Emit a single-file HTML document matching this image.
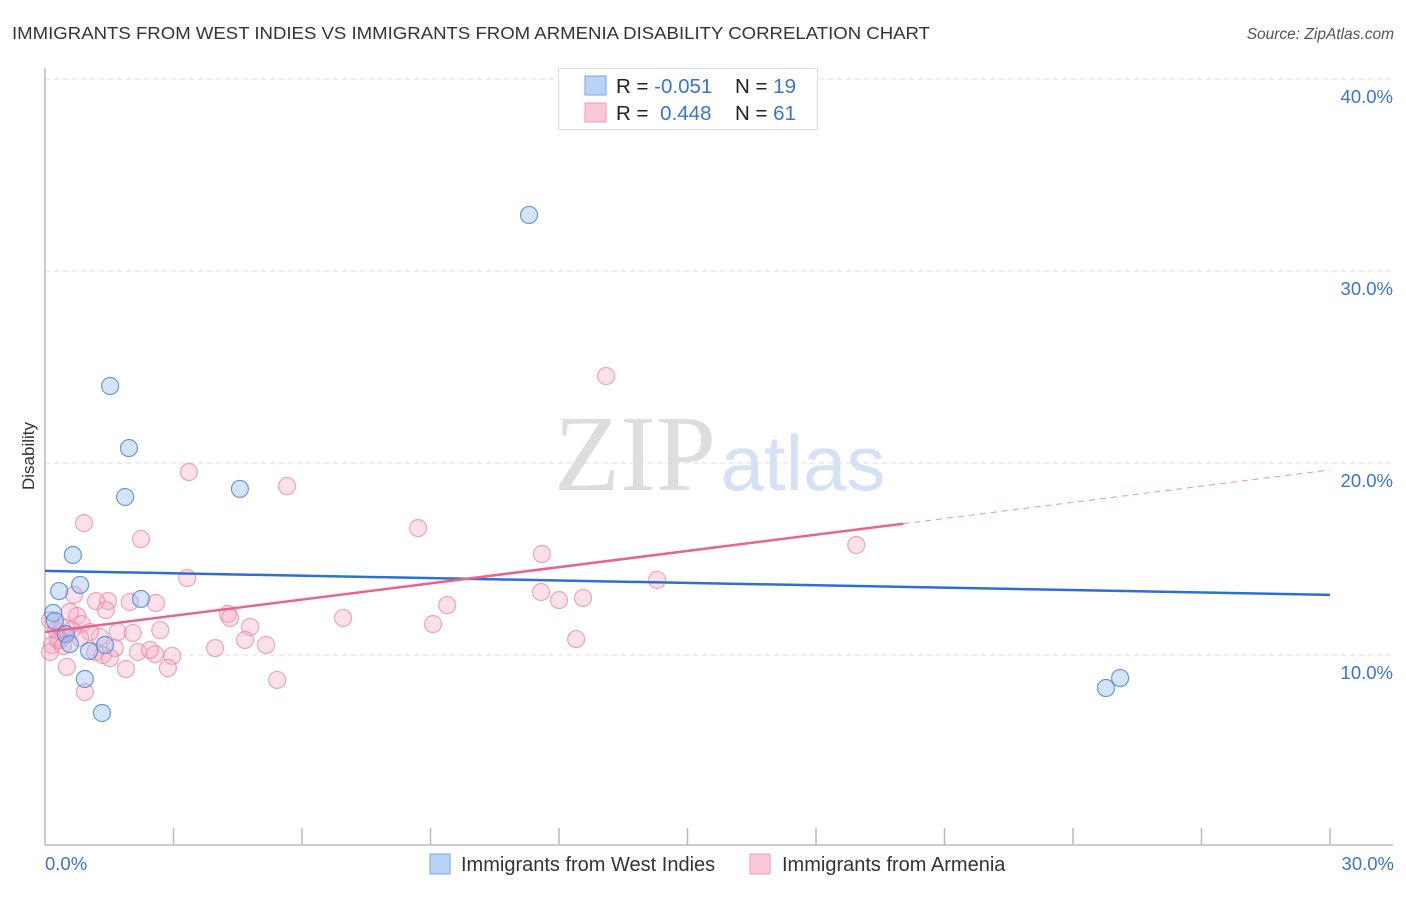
<!DOCTYPE html>
<html><head><meta charset="utf-8"><style>
body{margin:0;background:#fff;font-family:"Liberation Sans",sans-serif;}
svg text{font-family:"Liberation Sans",sans-serif;}
</style></head><body>
<svg id="chart" width="1406" height="892" xmlns="http://www.w3.org/2000/svg">
<text x="12" y="39" font-size="17.5" fill="#333" textLength="918" lengthAdjust="spacingAndGlyphs">IMMIGRANTS FROM WEST INDIES VS IMMIGRANTS FROM ARMENIA DISABILITY CORRELATION CHART</text>
<text x="1394" y="39" font-size="15.5" fill="#555" font-style="italic" text-anchor="end">Source: ZipAtlas.com</text>
<g id="grid"></g>
<g>
<text x="635" y="490" font-size="108" fill="#ddd" text-anchor="middle" style="font-family:'Liberation Serif',serif">ZIP</text>
<text x="803" y="490" font-size="78" fill="#d5e2f5" text-anchor="middle">atlas</text>
</g>
<g id="marks"></g>
<text x="34" y="456" font-size="17" fill="#333" text-anchor="middle" transform="rotate(-90 34 456)">Disability</text>
<g>
<rect x="558.5" y="68.5" width="259" height="61" fill="#fff" stroke="#ddd"/>
<rect x="585" y="76" width="21" height="19" fill="#b8d3f5" stroke="#7aa6e4"/>
<rect x="585" y="103" width="21" height="19" fill="#fbc8d6" stroke="#ee9bb4"/>
<text x="616" y="93" font-size="20.5" fill="#222">R = <tspan fill="#3b73d1">-0.051</tspan></text>
<text x="735" y="93" font-size="20.5" fill="#222">N = <tspan fill="#3b73d1">19</tspan></text>
<text x="616" y="120" font-size="20.5" fill="#222">R = <tspan fill="#3b73d1" dx="6">0.448</tspan></text>
<text x="735" y="120" font-size="20.5" fill="#222">N = <tspan fill="#3b73d1">61</tspan></text>
</g>
<text x="45" y="870" font-size="18.5" fill="#3b73d1">0.0%</text>
<text x="1394" y="870" font-size="18.5" fill="#3b73d1" text-anchor="end">30.0%</text>
<g>
<rect x="430" y="854" width="20" height="20" fill="#b8d3f5" stroke="#7aa6e4"/>
<text x="461" y="871" font-size="20" fill="#333">Immigrants from West Indies</text>
<rect x="750" y="854" width="20" height="20" fill="#fbc8d6" stroke="#ee9bb4"/>
<text x="782" y="871" font-size="20" fill="#333">Immigrants from Armenia</text>
</g>
</svg>
<script>
const yTicks=[10,20,30,40];
const yTickLabels=["10.0%","20.0%","30.0%","40.0%"];
const xTickVals=[3,6,9,12,15,18,21,24,27,30];
const blueX=[11.30,1.52,1.96,1.87,4.55,0.65,0.33,0.82,2.24,0.19,0.23,0.49,0.58,1.40,1.03,0.93,1.33,24.77,25.10];
const blueY=[32.92,24.01,20.78,18.23,18.65,15.21,13.33,13.65,12.92,12.19,11.77,11.09,10.57,10.52,10.21,8.75,6.98,8.28,8.80];
const pinkX=[13.10,3.36,5.65,0.91,2.24,8.71,11.60,18.94,3.32,14.29,11.58,12.00,12.56,9.39,6.96,9.06,12.40,4.27,4.32,2.59,1.98,1.47,1.19,0.68,0.75,0.58,1.42,0.86,0.12,0.26,0.44,0.35,1.70,2.05,2.69,4.79,4.67,5.16,3.97,2.97,2.57,2.17,2.45,1.28,1.63,1.17,1.35,1.52,1.89,2.87,0.51,0.93,5.42,0.16,0.12,0.30,0.40,1.05,0.42,0.63,0.82];
const pinkY=[24.53,19.53,18.80,16.87,16.04,16.61,15.26,15.73,14.01,13.91,13.28,12.86,12.97,12.60,11.93,11.61,10.83,12.14,11.93,12.71,12.76,12.81,12.81,13.13,12.03,12.24,12.34,11.61,11.82,11.30,11.09,10.78,11.20,11.15,11.30,11.46,10.78,10.52,10.36,9.95,10.05,10.16,10.26,10.94,10.36,10.16,10.00,9.84,9.27,9.32,9.38,8.07,8.70,10.52,10.16,10.78,11.41,11.20,10.47,11.30,10.89];
const blueTrend=[14.38,13.13];      // y at x=0, x=30
const pinkTrend=[11.20,19.64];      // y at x=0, x=30
const pinkSolidEnd=20.04;

const NS="http://www.w3.org/2000/svg";
const sx=v=>45+v/30*1285;
const sy=v=>847-v*19.2;
function mk(tag,attrs,parent){const e=document.createElementNS(NS,tag);for(const k in attrs)e.setAttribute(k,attrs[k]);parent.appendChild(e);return e;}
const grid=document.getElementById('grid'),marks=document.getElementById('marks');
yTicks.forEach((t,i)=>{
 const l=mk('line',{x1:45,x2:1393,y1:sy(t),y2:sy(t),stroke:'#ddd','stroke-dasharray':'5,4'},grid);
 
 
 const tx=mk('text',{x:1393,y:sy(t)+24,'font-size':18.5,fill:'#3b73d1','text-anchor':'end'},grid);
 tx.textContent=yTickLabels[i];
 
 
});
const ax=mk('line',{x1:45,x2:45,y1:68,y2:845,stroke:'#bbb','stroke-width':1.5},grid);


const bx=mk('line',{x1:45,x2:1393,y1:845,y2:845,stroke:'#bbb','stroke-width':1.5},grid);


xTickVals.forEach(t=>{
 const l=mk('line',{x1:sx(t),x2:sx(t),y1:828,y2:845,stroke:'#bbb','stroke-width':1.5},grid);
 
 
});
pinkX.forEach((x,i)=>{
 const c=mk('circle',{cx:sx(x),cy:sy(pinkY[i]),r:8.5,fill:'rgba(248,170,195,0.35)',stroke:'rgba(232,130,165,0.7)','stroke-width':1.2},marks);
 
 
});
blueX.forEach((x,i)=>{
 const c=mk('circle',{cx:sx(x),cy:sy(blueY[i]),r:8.5,fill:'rgba(150,190,240,0.4)',stroke:'rgba(70,130,215,0.8)','stroke-width':1.2},marks);
 
 
});
const pAt=x=>pinkTrend[0]+(pinkTrend[1]-pinkTrend[0])*x/30;
const bl=mk('line',{x1:sx(0),y1:sy(blueTrend[0]),x2:sx(30),y2:sy(blueTrend[1]),stroke:'#2d6fd6','stroke-width':2.5},marks);


const pl=mk('line',{x1:sx(0),y1:sy(pAt(0)),x2:sx(pinkSolidEnd),y2:sy(pAt(pinkSolidEnd)),stroke:'#e8648f','stroke-width':2.5},marks);


const pd=mk('line',{x1:sx(pinkSolidEnd),y1:sy(pAt(pinkSolidEnd)),x2:sx(30),y2:sy(pAt(30)),stroke:'#e8a0b8','stroke-width':1.2,'stroke-dasharray':'6,5'},marks);


</script>
</body></html>
